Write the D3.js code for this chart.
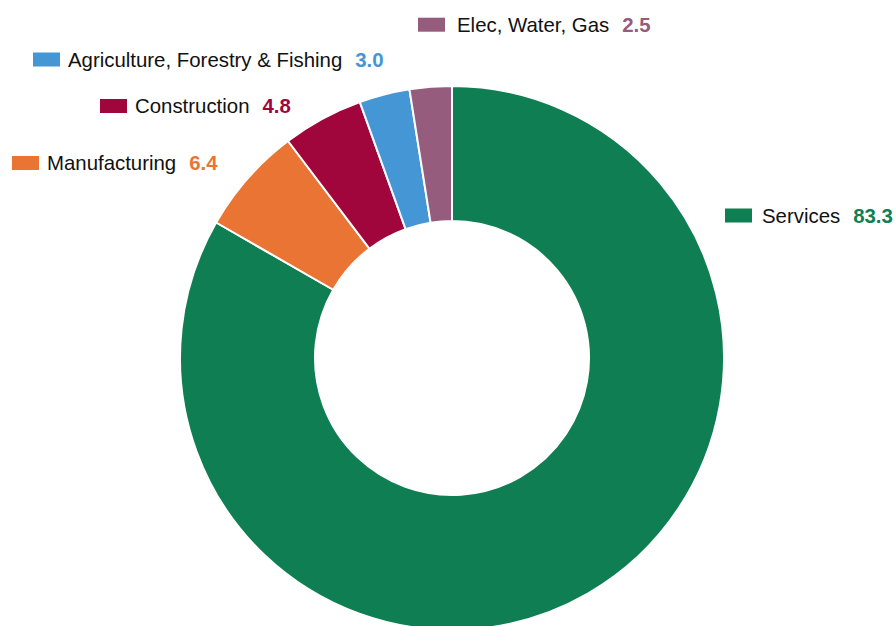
<!DOCTYPE html>
<html><head><meta charset="utf-8">
<script src="https://cdn.jsdelivr.net/npm/d3@7"></script>
<style>html,body{margin:0;padding:0;background:#fff;overflow:hidden}</style>
</head><body>
<svg id="chart" width="895" height="626"></svg>
<script>
const categories = ["Services", "Manufacturing", "Construction", "Agriculture, Forestry & Fishing", "Elec, Water, Gas"];
const values = [83.3, 6.4, 4.8, 3.0, 2.5];
const colors = ["#0f7f53", "#e97433", "#a0063c", "#4596d4", "#965c7e"];
// legend anchor (left of colour swatch, vertical centre) – layout only
const labelX = [725, 12, 100, 33, 418];
const labelY = [215.5, 163, 106, 59.5, 24.7];
const textOffset = [37, 35, 35, 35, 39];

const svg = d3.select("#chart");
const cx = 452, cy = 358, rOuter = 272, rInner = 137;

const pie = d3.pie().sort(null).value(d => d)(values);
const arc = d3.arc().innerRadius(rInner).outerRadius(rOuter);

svg.append("g").attr("transform", `translate(${cx},${cy})`)
  .selectAll("path").data(pie).join("path")
  .attr("d", arc)
  .attr("fill", (d, i) => colors[i])
  .attr("stroke", "#fff").attr("stroke-width", 2).attr("stroke-linejoin", "round");

const lg = svg.append("g").selectAll("g").data(categories).join("g")
  .attr("transform", (d, i) => `translate(${labelX[i]},${labelY[i]})`);
lg.append("rect").attr("x", 0).attr("y", -7).attr("width", 27).attr("height", 14)
  .attr("fill", (d, i) => colors[i]);
const txt = lg.append("text").attr("x", (d, i) => textOffset[i]).attr("y", 7.3)
  .style("font-family", "Arial, 'Liberation Sans', sans-serif").style("font-size", "20.4px");
txt.append("tspan").attr("fill", "#111").text(d => d);
txt.append("tspan").attr("dx", 13).attr("fill", (d, i) => colors[i]).style("font-weight", "bold")
  .text((d, i) => values[i].toFixed(1));
</script>
</body></html>
